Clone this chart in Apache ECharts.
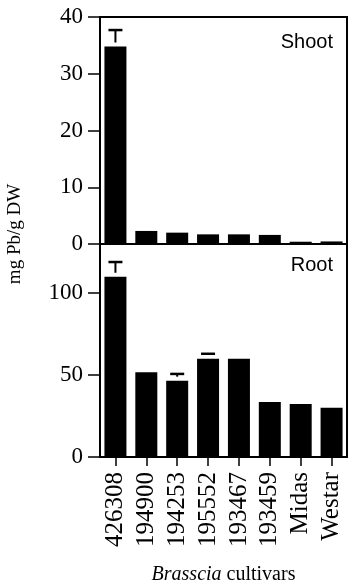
<!DOCTYPE html>
<html>
<head>
<meta charset="utf-8">
<script src="https://cdn.jsdelivr.net/npm/echarts@6/dist/echarts.min.js"></script>
<style>
  html, body { margin: 0; padding: 0; background: #fff; }
  #chart { width: 350px; height: 587px; }
</style>
</head>
<body>
<div id="chart"></div>
<script>
// cultivars on the x axis
const cultivars = ['426308', '194900', '194253', '195552', '193467', '193459', 'Midas', 'Westar'];

// mg Pb / g DW
const shootValues = [34.8, 2.3, 2.0, 1.7, 1.7, 1.6, 0.4, 0.45];
const shootErrTop = [37.7, null, null, null, null, null, null, null];
const rootValues = [110, 51.7, 46.6, 59.9, 60, 33.5, 32.3, 30];
const rootErrTop = [119, null, 50.7, 63, null, null, null, null];

const shootTicks = [0, 10, 20, 30, 40];
const rootTicks = [0, 50, 100];

const serif = '"Liberation Serif", "Times New Roman", serif';
const sans = '"Liberation Sans", Arial, sans-serif';

function errData(values, tops) {
  const out = [];
  tops.forEach((t, i) => {
    if (t != null) out.push([i, values[i], t]);
  });
  return out;
}

// T-shaped error mark: cap plus a short stem that stops just above the bar
function renderErr(params, api) {
  const base = api.coord([api.value(0), api.value(1)]);
  const top = api.coord([api.value(0), api.value(2)]);
  const half = 7;
  const stemEnd = Math.max(top[1], base[1] - 4);
  return {
    type: 'group',
    children: [
      {
        type: 'line',
        shape: { x1: top[0], y1: top[1], x2: top[0], y2: stemEnd },
        style: { stroke: '#000', lineWidth: 2 }
      },
      {
        type: 'line',
        shape: { x1: top[0] - half, y1: top[1], x2: top[0] + half, y2: top[1] },
        style: { stroke: '#000', lineWidth: 2.5 }
      }
    ]
  };
}

function yAxisFor(gridIndex, max, interval, ticks) {
  return {
    type: 'value',
    gridIndex: gridIndex,
    min: 0,
    max: max,
    interval: interval,
    axisLine: { show: true, lineStyle: { color: '#000', width: 2 } },
    axisTick: { show: true, length: 12, lineStyle: { color: '#000', width: 1.5 } },
    axisLabel: {
      margin: 17,
      color: '#000',
      fontFamily: serif,
      fontSize: 23,
      showMaxLabel: ticks.indexOf(max) >= 0,
      formatter: v => (ticks.indexOf(v) >= 0 ? String(v) : '')
    },
    splitLine: { show: false }
  };
}

const chart = echarts.init(document.getElementById('chart'), null, { renderer: 'canvas' });

chart.setOption({
  animation: false,
  backgroundColor: '#fff',
  title: [
    { text: 'Shoot', right: 12, top: 27, textStyle: { fontFamily: sans, fontSize: 20, fontWeight: 'normal', color: '#000' } },
    { text: 'Root', right: 12, top: 250, textStyle: { fontFamily: sans, fontSize: 20, fontWeight: 'normal', color: '#000' } }
  ],
  graphic: [
    {
      type: 'text',
      x: 15,
      y: 234,
      rotation: Math.PI / 2,
      style: {
        text: 'mg Pb/g DW',
        font: '19px "Liberation Serif", serif',
        fill: '#000',
        align: 'center',
        verticalAlign: 'middle'
      }
    }
  ],
  grid: [
    { left: 100, top: 17, width: 247, height: 227, show: true, borderColor: '#000', borderWidth: 2, outerBoundsMode: 'none', containLabel: false },
    { left: 100, top: 244, width: 247, height: 213, show: true, borderColor: '#000', borderWidth: 2, outerBoundsMode: 'none', containLabel: false }
  ],
  xAxis: [
    {
      type: 'category',
      gridIndex: 0,
      data: cultivars,
      axisLine: { show: true, lineStyle: { color: '#000', width: 2 } },
      axisTick: { show: false },
      axisLabel: { show: false }
    },
    {
      type: 'category',
      gridIndex: 1,
      data: cultivars,
      axisLine: { show: true, lineStyle: { color: '#000', width: 2 } },
      axisTick: { show: true, alignWithLabel: true, length: 9, lineStyle: { color: '#000', width: 1.5 } },
      axisLabel: { rotate: 90, margin: 15, color: '#000', fontFamily: serif, fontSize: 25, interval: 0 },
      name: '{i|Brasscia} cultivars',
      nameLocation: 'middle',
      nameGap: 108,
      nameTextStyle: {
        color: '#000',
        fontFamily: serif,
        fontSize: 20,
        rich: {
          i: { fontStyle: 'italic', fontFamily: serif, fontSize: 20, color: '#000' }
        }
      }
    }
  ],
  yAxis: [
    yAxisFor(0, 40, 10, shootTicks),
    yAxisFor(1, 130, 50, rootTicks)
  ],
  series: [
    {
      type: 'bar',
      xAxisIndex: 0,
      yAxisIndex: 0,
      data: shootValues,
      barWidth: 22,
      itemStyle: { color: '#000' }
    },
    {
      type: 'bar',
      xAxisIndex: 1,
      yAxisIndex: 1,
      data: rootValues,
      barWidth: 22,
      itemStyle: { color: '#000' }
    },
    {
      type: 'custom',
      xAxisIndex: 0,
      yAxisIndex: 0,
      renderItem: renderErr,
      data: errData(shootValues, shootErrTop),
      z: 3
    },
    {
      type: 'custom',
      xAxisIndex: 1,
      yAxisIndex: 1,
      renderItem: renderErr,
      data: errData(rootValues, rootErrTop),
      z: 3
    }
  ]
});
</script>
</body>
</html>
